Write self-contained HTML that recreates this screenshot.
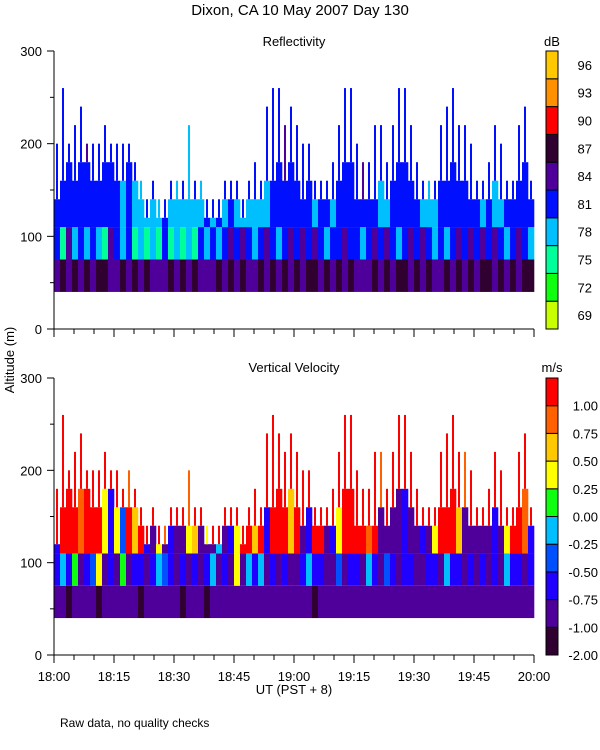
<!DOCTYPE html>
<html><head><meta charset="utf-8"><style>
html,body{margin:0;padding:0;background:#fff;width:600px;height:750px;overflow:hidden}
svg text{font-family:"Liberation Sans",sans-serif;font-size:13px;fill:#000}
</style></head><body>
<svg id="chart" width="600" height="750" viewBox="0 0 600 750" xmlns="http://www.w3.org/2000/svg">
<text x="300" y="15" text-anchor="middle" style="font-size:15px">Dixon, CA 10 May 2007  Day 130</text>
<text x="294" y="46" text-anchor="middle">Reflectivity</text>
<text x="294" y="372" text-anchor="middle">Vertical Velocity</text>
<text transform="translate(14,360) rotate(-90)" text-anchor="middle">Altitude (m)</text>
<text x="294" y="694" text-anchor="middle">UT  (PST + 8)</text>
<text x="60" y="727" style="font-size:12px">Raw data, no quality checks</text>
<text x="552" y="46" text-anchor="middle">dB</text>
<text x="552" y="372" text-anchor="middle">m/s</text>
<g id="g"></g>
</svg>
<script>
const refHeight=[140,160,180,160,180,180,160,160,180,180,160,160,180,160,140,120,140,120,120,140,
140,140,140,140,140,120,120,120,140,140,140,120,140,140,140,160,160,180,160,180,
160,140,160,140,140,140,140,160,180,180,140,140,140,140,160,140,160,180,180,160,
140,140,140,140,160,160,180,160,160,140,140,140,140,160,140,140,140,160,180,140];
const refSpike=[200,260,200,220,240,200,200,200,220,200,200,200,200,180,160,140,160,140,140,160,
160,160,220,160,160,140,140,140,160,160,160,140,160,180,160,240,260,260,220,240,
220,200,200,160,160,160,180,220,260,260,200,180,180,220,220,180,220,260,260,220,
180,160,160,160,220,240,260,220,220,200,160,160,180,220,200,160,160,220,240,160];
const velHeight=[120,160,180,160,180,180,160,160,180,180,160,160,160,160,140,120,140,120,120,140,
140,140,140,140,140,120,120,120,140,140,140,120,140,140,140,160,160,180,160,180,
160,140,160,140,140,140,140,160,180,180,140,140,140,140,160,140,160,180,180,160,
140,140,140,140,160,160,180,160,160,140,140,140,140,160,140,140,140,160,180,140];
const velSpike=[180,260,200,220,240,200,200,200,220,200,200,180,200,180,160,140,160,140,140,160,
160,160,200,160,160,140,140,140,160,160,160,140,160,180,160,240,260,240,220,240,
220,200,200,160,160,160,180,220,260,260,200,180,180,220,220,180,220,260,260,220,
180,160,160,160,220,240,260,220,220,200,160,160,180,220,200,160,160,220,240,160];
const refLow=("5656565665"+"5656565556"+"5656555656"+"5655656565"+"6566565656"+"5556565665"+"6565565656"+"5665656566").split('').map(Number);
const refMid=("4253434325"+"4342323242"+"3232434345"+"4543454345"+"4545434454"+"4345454345"+"4543434545"+"4545434543").split('').map(Number);
const refTop=("4444444444"+"4343333343"+"3333343434"+"3333334444"+"4443443444"+"4444334444"+"4333444444"+"4343344444").split('').map(Number);
const refSpikeC=("4444454444"+"4444344344"+"3434344444"+"4444444454"+"4444444444"+"4544444444"+"4434444444"+"4444444444").split('').map(Number);
const velLow=("1101111011"+"1111011111"+"1011101111"+"1111111111"+"1110111111"+"1111111111"+"1111111111"+"1111111111").split('').map(Number);
const velMid=("2425123612"+"1512212432"+"1212124121"+"6142412121"+"1242211312"+"2142132122"+"1122142212"+"1212142212").split('').map(Number);
const velTop=("2999899962"+"6397921612"+"1167111412"+"6997929997"+"9129912699"+"9989111121"+"1216999711"+"1112169982").split('').map(Number);
const velSpikeC=("9999999999"+"9989999989"+"9989969999"+"9999999999"+"9999999999"+"9999899999"+"9999999989"+"9999999999").split('').map(Number);
const refLabels=["69","72","75","78","81","84","87","90","93","96"];
const velLabels=["-2.00","-1.00","-0.75","-0.50","-0.25","0.00","0.25","0.50","0.75","1.00"];
const timeLabels=["18:00","18:15","18:30","18:45","19:00","19:15","19:30","19:45","20:00"];
const refColors=["#c8ff00","#10ff10","#00ff9a","#00bfff","#0010ff","#50009a","#300030","#ff0000","#ff9000","#ffc800"];
const velColors=["#300030","#50009a","#2000ff","#0050ff","#00bfff","#10ff10","#ffff00","#ffc800","#ff6000","#ff0000"];
const NS="http://www.w3.org/2000/svg", G=document.getElementById('g');
function el(t,a){const e=document.createElementNS(NS,t);for(const k in a)e.setAttribute(k,a[k]);G.appendChild(e);return e;}
const X0=54,X1=534;
function xScale(i,n){return X0+(X1-X0)*i/n;}
function panel(y0,y300,heights,spikes,low,mid,top,spc,colors,labels,pname){
  const yS=v=>y0-(y0-y300)*v/300;
  const n=heights.length;
  for(let i=0;i<n;i++){
    const x=xScale(i,n),w=xScale(i+1,n)-x,h=heights[i];
    const bands=[[40,75,low[i]],[75,Math.min(h,110),mid[i]],[110,h,top[i]]];
    bands.forEach(b=>{ if(b[1]<=b[0])return;
      const r=el('rect',{x:x,y:yS(b[1]),width:w+0.3,height:yS(b[0])-yS(b[1]),fill:colors[b[2]]});
      
      
    });
    if(spikes[i]>h){
      const s=el('rect',{x:x+2,y:yS(spikes[i]),width:2,height:yS(h)-yS(spikes[i]),fill:colors[spc[i]]});
      
      
    }
  }
  const ax=el('path',{d:`M${X0} ${y300}V${y0}H${X1}`,stroke:'#000',fill:'none','stroke-width':1});
  
  
  for(let v=0;v<=300;v+=50){const y=yS(v);
    el('line',{x1:X0-(v%100?4:7),x2:X0,y1:y,y2:y,stroke:'#000'});
    if(v%100===0){const t=el('text',{x:X0-12,y:y+5,'text-anchor':'end'});t.textContent=v;
      
      }
  }
  for(let m=0;m<=120;m+=5){const x=X0+(X1-X0)*m/120;
    el('line',{x1:x,x2:x,y1:y0,y2:y0+(m%15?5:8),stroke:'#000'});}
  const cx=546,cw=12,nc=colors.length,ch=(y0-y300)/nc;
  for(let k=0;k<nc;k++){const yy=y0-(k+1)*ch;
    const r=el('rect',{x:cx,y:yy,width:cw,height:ch,fill:colors[k],stroke:'#000','stroke-width':1});
    
    
    const t=el('text',{x:pname==='velocity'?598:592,y:yy+ch/2+(pname==='velocity'?ch/2+5:5),'text-anchor':'end'});
    t.textContent=labels[k];
    
    
  }
}
panel(329,51,refHeight,refSpike,refLow,refMid,refTop,refSpikeC,refColors,refLabels,'reflectivity');
panel(655,378,velHeight,velSpike,velLow,velMid,velTop,velSpikeC,velColors,velLabels,'velocity');
timeLabels.forEach((s,i)=>{const x=X0+(X1-X0)*i/(timeLabels.length-1);
  const t=el('text',{x:x,y:681,'text-anchor':'middle'});t.textContent=s;
  
  });
</script>
</body></html>
